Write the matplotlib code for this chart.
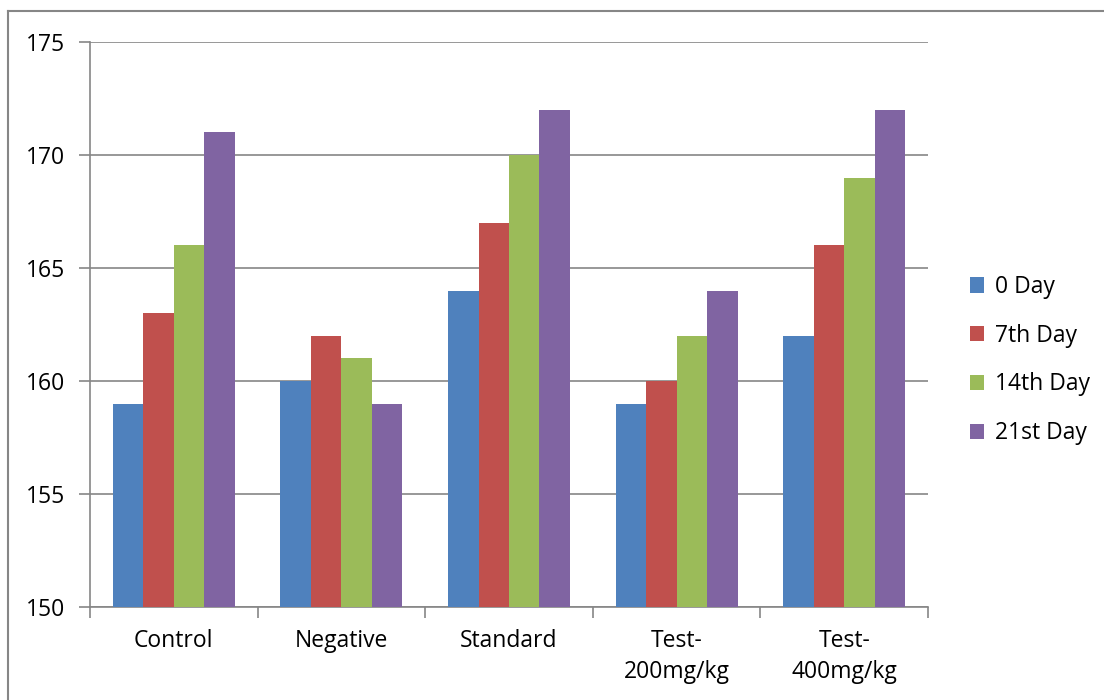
import numpy as np
import matplotlib.pyplot as plt
from matplotlib.lines import Line2D

# Veriler
gruplar = ['Control', 'Negative', 'Standard', 'Test-\n200mg/kg', 'Test-\n400mg/kg']
seriler = ['0 Day', '7th Day', '14th Day', '21st Day']
gun0 = [159, 160, 164, 159, 162]
gun7 = [163, 162, 167, 160, 166]
gun14 = [166, 161, 170, 162, 169]
gun21 = [171, 159, 172, 164, 172]
renkler = ['#4F81BD', '#C0504D', '#9BBB59', '#8064A2']

plt.rcParams['font.family'] = ['Open Sans', 'DejaVu Sans']
fs = 16.5

fig = plt.figure(figsize=(11.04, 7), dpi=100)
ax = fig.add_axes([90/1104, 1 - 607/700, 838/1104, 565/700])

x = np.arange(len(gruplar))
w = 1 / 5.5
for i, (vals, ad) in enumerate(zip([gun0, gun7, gun14, gun21], seriler)):
    ax.bar(x + (i - 1.5) * w, np.array(vals) - 150, width=w, bottom=150,
           color=renkler[i], label=ad, zorder=3)

ax.set_ylim(150, 175)
ax.set_xlim(-0.5, len(gruplar) - 0.5)
ax.set_yticks(range(150, 176, 5))
ax.yaxis.grid(True, color='#868686', linewidth=1.2, zorder=0)

ax.set_xticks(x)
ax.set_xticklabels(gruplar, fontsize=fs, linespacing=1.4, va='top')
ax.set_xticks(np.arange(-0.5, len(gruplar)), minor=True)
ax.tick_params(axis='x', which='major', length=0, pad=16)
ax.tick_params(axis='x', which='minor', length=8, color='#868686', width=1.2)
ax.tick_params(axis='y', length=8, color='#868686', width=1.2, pad=10, labelsize=fs)

for s in ['top', 'right']:
    ax.spines[s].set_visible(False)
for s in ['left', 'bottom']:
    ax.spines[s].set_color('#868686')
    ax.spines[s].set_linewidth(1.2)

ax.legend(loc='center left', bbox_to_anchor=(1.025, 0.437), frameon=False,
          fontsize=fs, handlelength=0.65, handleheight=0.65, handletextpad=0.45,
          labelspacing=1.08)

# Dış çerçeve (sadece üst ve sol)
fig.add_artist(Line2D([8/1104, 1], [1 - 11/700, 1 - 11/700], color='#868686', linewidth=1.5))
fig.add_artist(Line2D([8/1104, 8/1104], [0, 1 - 11/700], color='#868686', linewidth=1.5))

fig.savefig('out.png', dpi=100)
